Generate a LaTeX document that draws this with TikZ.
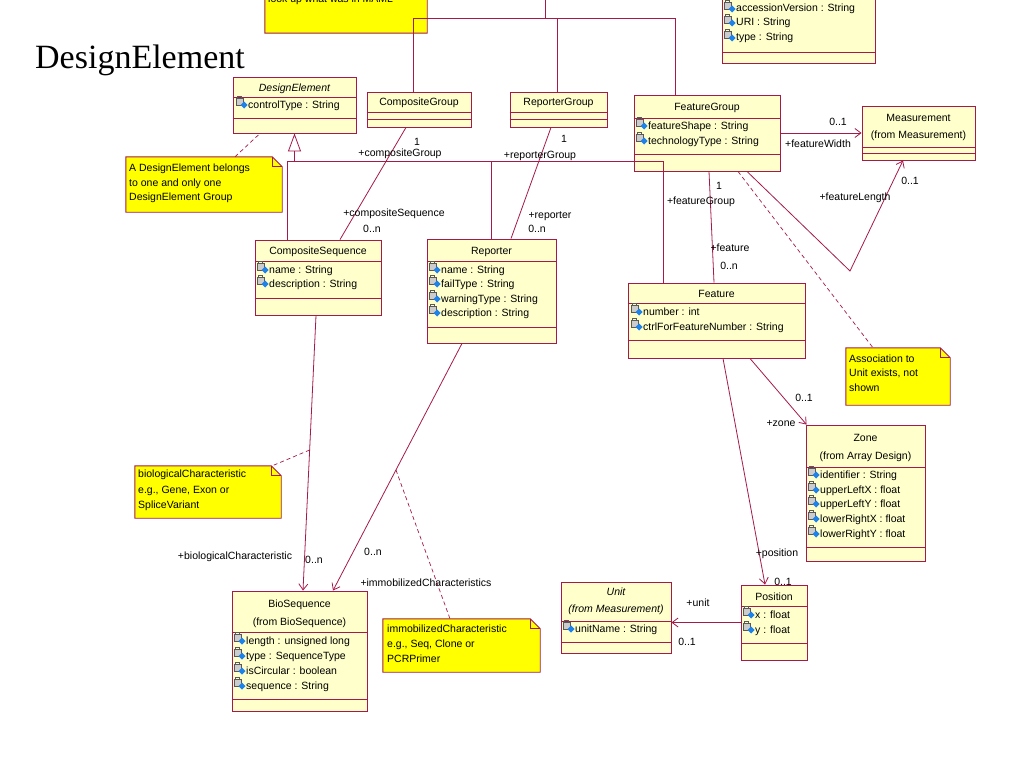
\documentclass[tikz,border=0pt]{standalone}
\usepackage{fontspec}
\setmainfont{Liberation Serif}
\newfontfamily\umlf{Liberation Sans}
\usetikzlibrary{arrows.meta,fit,calc}
\definecolor{umlred}{RGB}{165,25,75}
\definecolor{clsfill}{RGB}{255,255,204}
\definecolor{notefill}{RGB}{255,255,0}
\definecolor{icoblue}{RGB}{30,130,235}
\newcommand\umlclass[5]{\node[cls, fit={(#2,#3) (#4,#5)}] (#1) {};}
\newcommand\csep[2]{\draw[sepl] (#1.west |- 0,#2) -- (#1.east |- 0,#2);}
\newcommand\attr[4]{\pic at (#2,#3) {ico}; \node[txt,anchor=base west] (#1) at (#2+12,#3) {#4};}
\newcommand\umlnote[5]{%
  \node[inner sep=0pt, fit={(#2,#3) (#4,#5)}] (#1) {};
  \filldraw[draw=umlred, fill=notefill, line width=0.9pt] (#1.north west) -- ([xshift=-10pt]#1.north east) -- ([yshift=-10pt]#1.north east) -- (#1.south east) -- (#1.south west) -- cycle;
  \draw[umlred, line width=0.7pt] ([xshift=-10pt]#1.north east) -- ([xshift=-10pt,yshift=-10pt]#1.north east) -- ([yshift=-10pt]#1.north east);}
\begin{document}
\begin{tikzpicture}[x=1pt,y=-1pt,
  cls/.style={draw=umlred, fill=clsfill, line width=0.9pt, inner sep=0pt},
  sepl/.style={draw=umlred, line width=0.9pt},
  txt/.style={font=\umlf\fontsize{10.5}{12}\selectfont, inner sep=0pt, text=black},
  itxt/.style={txt, font=\umlf\itshape\fontsize{10.5}{12}\selectfont},
  lbl/.style={txt, anchor=base},
  assoc/.style={draw=umlred, line width=0.8pt},
  arr/.style={assoc, -{Straight Barb[length=6pt,width=9pt]}},
  dashline/.style={draw=umlred, line width=0.7pt, dash pattern=on 4pt off 3pt},
  gen/.style={assoc, -{Triangle[open,length=18pt,width=13pt]}},
  ico/.pic={\filldraw[fill=gray!40, draw=black!65, line width=0.4pt] (0,-10) rectangle (7,-2.5);
            \draw[black!65, line width=0.4pt] (1.5,-10) -- (1.5,-11.5) -- (5.5,-11.5) -- (5.5,-10);
            \fill[icoblue] (8,-6.5) -- (11.5,-3) -- (8,0.5) -- (4.5,-3) -- cycle;}
]
\useasboundingbox (0,0) rectangle (1024,768);
\clip (0,0) rectangle (1024,768);
\fill[white] (0,0) rectangle (1024,768);

% title
\node[font=\fontsize{34}{40}\selectfont, anchor=base west, inner sep=0pt] (title) at (35,68) {DesignElement};

% top note (cut off)
\umlnote{TN}{265}{-40}{427}{33}
\node[txt, anchor=base west] (TNt) at (268,3) {look up what was in MAML};

% top-right partial class
\umlclass{TR}{722}{-60}{875}{63}
\csep{TR}{52}
\attr{TRa}{724}{12}{accessionVersion : String}
\attr{TRb}{724}{26}{URI : String}
\attr{TRc}{724}{41}{type : String}

% classes
\umlclass{DE}{233}{77}{356}{133}
\csep{DE}{97}\csep{DE}{118}
\node[itxt, anchor=base] (DEn) at (294.5,91) {DesignElement};
\attr{DEa}{236}{108}{controlType : String}

\umlclass{CG}{367}{92}{471}{127}
\csep{CG}{112}\csep{CG}{119}
\node[txt, anchor=base] (CGn) at (419,105) {CompositeGroup};

\umlclass{RG}{510}{92}{607}{127}
\csep{RG}{112}\csep{RG}{119}
\node[txt, anchor=base] (RGn) at (558.5,105) {ReporterGroup};

\umlclass{FG}{634}{95}{780}{171}
\csep{FG}{118}\csep{FG}{154}
\node[txt, anchor=base] (FGn) at (707,110) {FeatureGroup};
\attr{FGa}{636}{129}{featureShape : String}
\attr{FGb}{636}{144}{technologyType : String}

\umlclass{MS}{862}{106}{975}{160}
\csep{MS}{147}\csep{MS}{153}
\node[txt, anchor=base] (MSn) at (918.5,121) {Measurement};
\node[txt, anchor=base] (MSf) at (918.5,138) {(from Measurement)};

\umlclass{CS}{255}{240}{381}{315}
\csep{CS}{261}\csep{CS}{298}
\node[txt, anchor=base] (CSn) at (318,254) {CompositeSequence};
\attr{CSa}{257}{273}{name : String}
\attr{CSb}{257}{287}{description : String}

\umlclass{REP}{427}{239}{556}{343}
\csep{REP}{261}\csep{REP}{327}
\node[txt, anchor=base] (REPn) at (491.5,254) {Reporter};
\attr{REPa}{429}{273}{name : String}
\attr{REPb}{429}{287}{failType : String}
\attr{REPc}{429}{302}{warningType : String}
\attr{REPd}{429}{316}{description : String}

\umlclass{FEAT}{628}{283}{805}{358}
\csep{FEAT}{303}\csep{FEAT}{340}
\node[txt, anchor=base] (FEATn) at (716.5,297) {Feature};
\attr{FEATa}{631}{315}{number : int}
\attr{FEATb}{631}{330}{ctrlForFeatureNumber : String}

\umlclass{Z}{806}{425}{925}{561}
\csep{Z}{467}\csep{Z}{547}
\node[txt, anchor=base] (Zn) at (865.5,441) {Zone};
\node[txt, anchor=base] (Zf) at (865.5,459) {(from Array Design)};
\attr{Za}{808}{478}{identifier : String}
\attr{Zb}{808}{493}{upperLeftX : float}
\attr{Zc}{808}{507}{upperLeftY : float}
\attr{Zd}{808}{522}{lowerRightX : float}
\attr{Ze}{808}{537}{lowerRightY : float}

\umlclass{BS}{232}{591}{367}{711}
\csep{BS}{632}\csep{BS}{699}
\node[txt, anchor=base] (BSn) at (299.5,607) {BioSequence};
\node[txt, anchor=base] (BSf) at (299.5,625) {(from BioSequence)};
\attr{BSa}{234}{644}{length : unsigned long}
\attr{BSb}{234}{659}{type : SequenceType}
\attr{BSc}{234}{674}{isCircular : boolean}
\attr{BSd}{234}{689}{sequence : String}

\umlclass{U}{561}{582}{671}{653}
\csep{U}{621}\csep{U}{642}
\node[itxt, anchor=base] (Un) at (616,595) {Unit};
\node[itxt, anchor=base] (Uf) at (616,612) {(from Measurement)};
\attr{Ua}{563}{632}{unitName : String}

\umlclass{P}{741}{585}{807}{660}
\csep{P}{606}\csep{P}{643}
\node[txt, anchor=base] (Pn) at (774,600) {Position};
\attr{Pa}{743}{618}{x : float}
\attr{Pb}{743}{633}{y : float}

% notes
\umlnote{NDE}{126}{157}{282}{212}
\node[txt, anchor=base west] (NDE1) at (129,171) {A DesignElement belongs};
\node[txt, anchor=base west] (NDE2) at (129,186) {to one and only one};
\node[txt, anchor=base west] (NDE3) at (129,200) {DesignElement Group};

\umlnote{NAU}{846}{348}{950}{405}
\node[txt, anchor=base west] (NAU1) at (849,362) {Association to};
\node[txt, anchor=base west] (NAU2) at (849,376) {Unit exists, not};
\node[txt, anchor=base west] (NAU3) at (849,391) {shown};

\umlnote{NBC}{135}{466}{281}{518}
\node[txt, anchor=base west] (NBC1) at (138,477) {biologicalCharacteristic};
\node[txt, anchor=base west] (NBC2) at (138,493) {e.g., Gene, Exon or};
\node[txt, anchor=base west] (NBC3) at (138,508) {SpliceVariant};

\umlnote{NIC}{383}{619}{540}{672}
\node[txt, anchor=base west] (NIC1) at (387,632) {immobilizedCharacteristic};
\node[txt, anchor=base west] (NIC2) at (387,647) {e.g., Seq, Clone or};
\node[txt, anchor=base west] (NIC3) at (387,662) {PCRPrimer};

% aggregation tree at top
\coordinate (Jt) at (545,-5);
\coordinate (J) at (545,18);
\draw[assoc] (Jt) -- (J);
\draw[assoc] ([xshift=-6pt]CG.north) |- (J);
\draw[assoc] (J) -| ([xshift=-32pt]FG.north);
\draw[assoc] ([xshift=-1.5pt]RG.north) |- (J);

% generalization
\coordinate (GJ) at (294.5,161);
\draw[gen] (GJ) -- (DE.south);
\coordinate (CSg) at ([xshift=-31pt]CS.north);
\coordinate (FEATg) at ([xshift=-53.5pt]FEAT.north);
\draw[assoc] (CSg) -- (CSg |- GJ) -- (FEATg |- GJ) -- (FEATg);
\draw[assoc] (REP.north) -- (REP.north |- GJ);

% associations
\draw[assoc] ([xshift=-13pt]CG.south) -- ([xshift=22pt]CS.north);
\draw[assoc] ([xshift=-7.5pt]RG.south) -- ([xshift=19.5pt]REP.north);
\draw[assoc] ([xshift=2pt]FG.south) -- ([xshift=-2.5pt]FEAT.north);
\draw[arr] (FG.east) -- (MS.west);
\coordinate (FLk) at (850,271);
\draw[arr] ([xshift=40pt]FG.south) -- (FLk) -- ([xshift=-15.5pt]MS.south);
\draw[dashline] ([xshift=31pt]FG.south) -- ([xshift=-25pt]NAU.north);
\draw[arr] ([xshift=-2pt]CS.south) -- coordinate[pos=0.489] (g1) ([xshift=3.5pt]BS.north);
\draw[dashline] (g1) -- ([xshift=-9pt]NBC.north east);
\draw[arr] ([xshift=-29.5pt]REP.south) -- coordinate[pos=0.512] (g2) ([xshift=33.5pt]BS.north);
\draw[dashline] (g2) -- ([xshift=-11.5pt]NIC.north);
\draw[arr] ([xshift=33.5pt]FEAT.south) -- ([xshift=1pt]Z.north west);
\draw[arr] ([xshift=6.5pt]FEAT.south) -- ([xshift=-9pt]P.north);
\draw[arr] (P.west) -- (P.west -| U.east);
\draw[dashline] ([xshift=31pt]NDE.north) -- ([xshift=-34.5pt]DE.south);

% labels
\node[lbl] (l1) at (417,145) {1};
\node[lbl] (l2) at (400,156) {+compositeGroup};
\node[lbl] (l3) at (394,216) {+compositeSequence};
\node[lbl] (l4) at (372,232) {0..n};
\node[lbl] (l5) at (564,142) {1};
\node[lbl] (l6) at (540,158) {+reporterGroup};
\node[lbl] (l7) at (550,218) {+reporter};
\node[lbl] (l8) at (537,232) {0..n};
\node[lbl] (l9) at (719,189) {1};
\node[lbl] (l10) at (701,204) {+featureGroup};
\node[lbl] (l11) at (730,251) {+feature};
\node[lbl] (l12) at (729,269) {0..n};
\node[lbl] (l13) at (838,125) {0..1};
\node[lbl] (l14) at (818,147) {+featureWidth};
\node[lbl] (l15) at (910,184) {0..1};
\node[lbl] (l16) at (855,200) {+featureLength};
\node[lbl] (l17) at (235,559) {+biologicalCharacteristic};
\node[lbl] (l18) at (314,563) {0..n};
\node[lbl] (l19) at (373,555) {0..n};
\node[lbl] (l20) at (426,586) {+immobilizedCharacteristics};
\node[lbl] (l21) at (804,401) {0..1};
\node[lbl] (l22) at (781,426) {+zone};
\node[lbl] (l23) at (777,556) {+position};
\node[lbl] (l24) at (783,585) {0..1};
\node[lbl] (l25) at (698,606) {+unit};
\node[lbl] (l26) at (687,645) {0..1};
\end{tikzpicture}
\end{document}
